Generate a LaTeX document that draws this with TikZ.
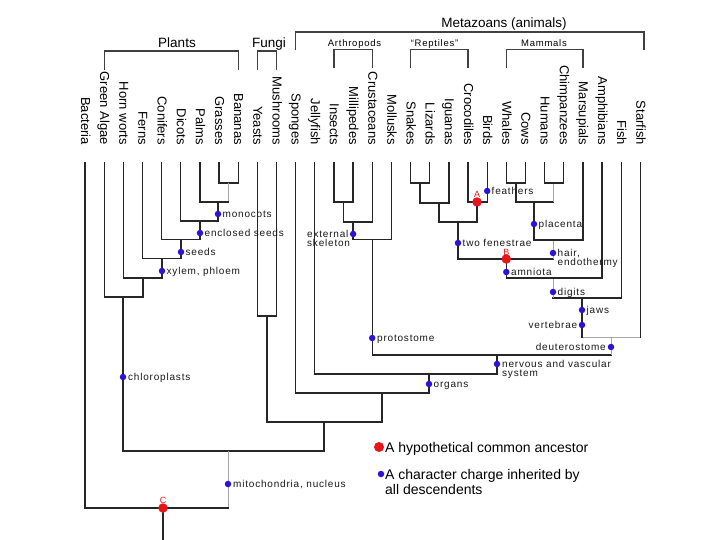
\documentclass[tikz,border=0pt]{standalone}
\usepackage{fontspec}
\setmainfont{Liberation Sans}
\newfontfamily\annfont[LetterSpace=8]{Liberation Sans}
\definecolor{dotblue}{RGB}{43,20,216}
\definecolor{dotred}{RGB}{232,20,28}
\begin{document}
\begin{tikzpicture}[x=1pt,y=-1pt,
  ln/.style={draw=black!85, line width=1.3pt, line cap=rect},
  lg/.style={draw=black!35, line width=0.9pt, line cap=rect},
  br/.style={draw=black!75, line width=1.2pt},
  bdot/.style={circle, fill=dotblue, inner sep=0pt, minimum size=6.5pt},
  rdot/.style={circle, fill=dotred, inner sep=0pt, minimum size=9.5pt},
  lf/.style={font=\fontsize{13}{13}\selectfont, rotate=-90, anchor=base east, inner sep=0pt},
  ann/.style={font=\annfont\fontsize{10}{9}\selectfont, inner sep=0pt, text=black!90},
  grp/.style={font=\fontsize{13.5}{14}\selectfont, anchor=base, inner sep=0pt},
  sgrp/.style={font=\annfont\fontsize{9.5}{10}\selectfont, anchor=base, inner sep=0pt},
  rl/.style={font=\fontsize{9}{10}\selectfont, text=dotred, anchor=base, inner sep=0pt},
  leg/.style={font=\fontsize{14}{15}\selectfont, inner sep=0pt}]
\fill[white] (0,0) rectangle (720,540);
\useasboundingbox (0,0) rectangle (720,540);

% leaf labels and leaf tops
\foreach \t [count=\i from 0] in {Bacteria,Green Algae,Horn worts,Ferns,Conifers,Dicots,Palms,Grasses,Bananas,Yeasts,Mushrooms,Sponges,Jellyfish,Insects,Millipedes,Crustaceans,Mollusks,Snakes,Lizards,Iguanas,Crocodiles,Birds,Whales,Cows,Humans,Chimpanzees,Marsupials,Amphibians,Fish,Starfish}{
  \node[lf] (leaf\i) at ({85+19.15*\i-4},145) {\t};
  \coordinate (t\i) at ({85+19.15*\i},163);
}

% group labels
\node[grp] (gPlants) at (177,47.5) {Plants};
\node[grp] (gFungi) at (269,47.5) {Fungi};
\node[grp] (gMeta) at (504,27.5) {Metazoans (animals)};
\node[sgrp] (gArth) at (354.5,46.8) {Arthropods};
\node[sgrp] (gRept) at (434.5,46.8) {“Reptiles”};
\node[sgrp] (gMamm) at (544,46.8) {Mammals};

% brackets
\draw[br] (104.15,70) |- (238.2,51) -- (238.2,70);
\draw[br] (257.35,70) |- (276.5,51) -- (276.5,70);
\draw[br] (295.65,50) |- (644,32) -- (644,50);
\draw[br] (334,68) |- (372.2,49.5) -- (372.2,68);
\draw[br] (410.55,68) |- (468,49.5) -- (468,68);
\draw[br] (506.3,68) |- (582.9,49.5) -- (582.9,68);

% internal nodes
\coordinate (nGB) at (228.6,183);
\coordinate (nPalm) at (218,202);
\coordinate (nDicot) at (200,221);
\coordinate (nConif) at (181,239.5);
\coordinate (nFern) at (162,258.5);
\coordinate (nHorn) at (143,278);
\coordinate (nAlg) at (123,297);
\coordinate (nEuk) at (228,451);
\coordinate (nRoot) at (163,508);
\coordinate (bot) at (163,540);
\coordinate (nFun) at (267,316);
\coordinate (nFA) at (324,422);
\coordinate (nMet) at (382,393);
\coordinate (nEum) at (429,374);
\coordinate (nBil) at (497,355);
\coordinate (nProt) at (372.2,239.5);
\coordinate (nArth) at (353.1,222);
\coordinate (nIM) at (343.5,202);
\coordinate (nDeut) at (611,337);
\coordinate (nVert) at (582,298);
\coordinate (nTet) at (553,278);
\coordinate (nAmn) at (506.3,259);
\coordinate (nMam) at (553,240);
\coordinate (nPlac) at (534,202);
\coordinate (nWC) at (516,183);
\coordinate (nHC) at (553,183);
\coordinate (nSaur) at (458,222);
\coordinate (nArch) at (477,202);
\coordinate (nLep) at (439,203);
\coordinate (nSL) at (420,183);

% plants
\draw[ln] (t7) |- (nGB) -| (t8);
\draw[lg] (nGB) -- (nGB|-nPalm);
\draw[ln] (t6) |- (nGB|-nPalm);
\draw[ln] (nPalm) -- (nPalm|-nDicot);
\draw[ln] (t5) |- (nPalm|-nDicot);
\draw[ln] (nDicot) -- (nDicot|-nConif);
\draw[ln] (t4) |- (nDicot|-nConif);
\draw[ln] (nConif) -- (nConif|-nFern);
\draw[ln] (t3) |- (nConif|-nFern);
\draw[ln] (nFern) -- (nFern|-nHorn);
\draw[ln] (t2) |- (nFern|-nHorn);
\draw[ln] (nHorn) -- (nHorn|-nAlg);
\draw[ln] (t1) |- (nHorn|-nAlg);
\draw[ln] (nAlg) |- (nFA|-nEuk) -- (nFA);
\draw[lg] (nEuk) -- (nEuk|-nRoot);
\draw[ln] (t0) |- (nEuk|-nRoot);
\draw[ln] (nRoot) -- (bot);

% fungi and animals
\draw[ln] (t9) |- (nFun) -| (t10);
\draw[ln] (nFun) |- (nFA);
\draw[ln] (nFA) -| (nMet);
\draw[ln] (t11) |- (nMet);
\draw[ln] (nMet) -| (nEum);
\draw[ln] (t12) |- (nEum);
\draw[ln] (nEum) -| (nBil);
\draw[ln] (nBil) -| (nProt);
\draw[ln] (nProt) -| (t16);
\draw[ln] (nProt) -| (nArth);
\draw[ln] (nArth) -| (t15);
\draw[ln] (nArth) -| (nIM);
\draw[ln] (t13) |- (nIM) -| (t14);
\draw[ln] (nBil) -- (nDeut|-nBil);
\draw[lg] (nDeut|-nBil) -- (nDeut);
\draw[lg] (nDeut) -- (t29|-nDeut);
\draw[ln] (t29) -- (t29|-nDeut);
\draw[lg] (nDeut) -- (nVert|-nDeut);
\draw[ln] (nVert) -- (nVert|-nDeut);
\draw[ln] (nVert) -| (t28);
\draw[ln] (nVert) -- (nTet|-nVert);
\draw[lg] (nTet|-nVert) -- (nTet);
\draw[ln] (nTet) -| (t27);
\draw[ln] (nTet) -| (nAmn);
\draw[ln] (nAmn) -- (nMam|-nAmn);
\draw[lg] (nMam|-nAmn) -- (nMam);
\draw[ln] (nMam) -| (t26);
\draw[ln] (nMam) -| (nPlac);
\draw[ln] (nPlac) -| (nWC);
\draw[ln] (nPlac) -- (nHC|-nPlac);
\draw[lg] (nHC|-nPlac) -- (nHC);
\draw[ln] (t22) |- (nWC) -| (t23);
\draw[ln] (t24) |- (nHC) -| (t25);
\draw[ln] (nAmn) -| (nSaur);
\draw[ln] (nSaur) -| (nLep);
\draw[ln] (nSaur) -| (nArch);
\draw[ln] (t20) |- (nArch) -| (t21);
\draw[ln] (nLep) -| (t19);
\draw[ln] (nLep) -| (nSL);
\draw[ln] (t17) |- (nSL) -| (t18);

% character changes
\node[bdot] (dMono) at (218,214) {};
\node[ann, anchor=base west] (tMono) at (222.5,217.5) {monocots};
\node[bdot] (dEncl) at (200,233) {};
\node[ann, anchor=base west] (tEncl) at (204.5,236.5) {enclosed seeds};
\node[bdot] (dSeed) at (181,252) {};
\node[ann, anchor=base west] (tSeed) at (185.5,255.5) {seeds};
\node[bdot] (dXyl) at (162,271) {};
\node[ann, anchor=base west] (tXyl) at (166.5,274.5) {xylem, phloem};
\node[bdot] (dChl) at (123,377) {};
\node[ann, anchor=base west] (tChl) at (128,380.5) {chloroplasts};
\node[bdot] (dMit) at (228,484) {};
\node[ann, anchor=base west] (tMit) at (233,487.5) {mitochondria, nucleus};
\node[bdot] (dExt) at (353.1,234) {};
\node[ann, anchor=north west, align=left] (tExt) at (307,229.7) {external\\skeleton};
\node[bdot] (dProt) at (372.2,338) {};
\node[ann, anchor=base west] (tProt) at (377,341.5) {protostome};
\node[bdot] (dOrg) at (429,384) {};
\node[ann, anchor=base west] (tOrg) at (433.5,387.5) {organs};
\node[bdot] (dNerv) at (497,364) {};
\node[ann, anchor=north west, align=left] (tNerv) at (502,360.2) {nervous and vascular\\system};
\node[bdot] (dDeut) at (611,347) {};
\node[ann, anchor=base east] (tDeut) at (606,350.5) {deuterostome};
\node[bdot] (dVert) at (582,325) {};
\node[ann, anchor=base east] (tVert) at (577.5,328.5) {vertebrae};
\node[bdot] (dJaw) at (582,310) {};
\node[ann, anchor=base west] (tJaw) at (586.5,313.5) {jaws};
\node[bdot] (dDig) at (553,292) {};
\node[ann, anchor=base west] (tDig) at (557.5,295.5) {digits};
\node[bdot] (dAmn) at (506.3,272) {};
\node[ann, anchor=base west] (tAmn) at (511,275.5) {amniota};
\node[bdot] (dHair) at (553,253) {};
\node[ann, anchor=north west, align=left] (tHair) at (557.5,249.2) {hair,\\endothermy};
\node[bdot] (dFen) at (458,243) {};
\node[ann, anchor=base west] (tFen) at (462.5,246.5) {two fenestrae};
\node[bdot] (dPlac) at (534,224) {};
\node[ann, anchor=base west] (tPlac) at (538.5,227.5) {placenta};
\node[bdot] (dFeat) at (487.2,191) {};
\node[ann, anchor=base west] (tFeat) at (491.5,194.5) {feathers};

% common ancestors
\node[rdot] (A) at (nArch) {};
\node[rl] (lA) at (477,197) {A};
\node[rdot] (B) at (nAmn) {};
\node[rl] (lB) at (506.3,255.8) {B};
\node[rdot] (C) at (nRoot) {};
\node[rl] (lC) at (163,503) {C};

% legend
\node[rdot, minimum width=10pt, minimum height=9pt] (legR) at (379,447) {};
\node[leg, anchor=base west] (legRt) at (385,452) {A hypothetical common ancestor};
\node[bdot] (legB) at (381,474) {};
\node[leg, anchor=north west, align=left] (legBt) at (385,469) {A character charge inherited by\\all descendents};
\end{tikzpicture}
\end{document}
